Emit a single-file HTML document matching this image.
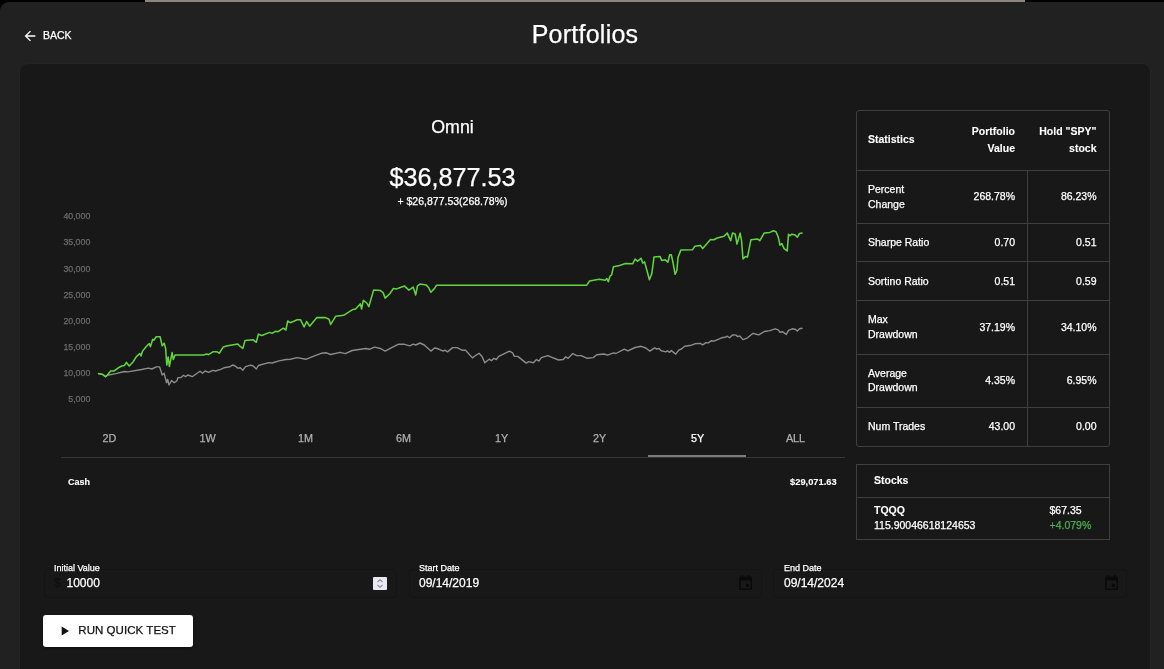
<!DOCTYPE html>
<html lang="en"><head><meta charset="utf-8"><title>Portfolios</title>
<style>
html,body{margin:0;padding:0;}
body{width:1164px;height:669px;overflow:hidden;background:#212121;color:#fff;font-family:"Liberation Sans",Arial,Helvetica,sans-serif;position:relative;}
.abs{position:absolute;white-space:nowrap;line-height:1;-webkit-text-stroke:.25px currentColor;}
.topbar{position:absolute;left:0;top:0;width:1164px;height:2px;background:#000;}
.topbar i{position:absolute;left:145px;top:0;width:880px;height:2px;background:#8b867b;}
.corner{position:absolute;left:0;top:0;width:10px;height:12px;background:#000;}
.corner b{position:absolute;left:0;top:2px;width:20px;height:20px;background:#212121;border-top-left-radius:9px;}
.card{position:absolute;left:20px;top:64px;width:1130px;height:640px;background:#181818;border-radius:8px;box-shadow:0 0 0 1px #242424;}
.title{left:0;width:1170px;text-align:center;top:22.200px;font-size:25px;letter-spacing:.25px;}
.back{left:43px;top:30.200px;font-size:10.500px;letter-spacing:0;}
.c{text-align:center;left:60.500px;width:784px;}
.ylab{font-size:8.800px;color:#6b6b6b;text-align:right;width:60px;left:30.300px;margin-top:.65px;}
.tab{font-size:10.800px;color:#b0b0b0;width:98px;text-align:center;top:433.400px;margin-left:.5px;}
.tabline{position:absolute;left:61px;top:456.600px;width:784px;height:1px;background:#353535;}
.ind{position:absolute;left:648.200px;top:455.100px;width:98px;height:1.500px;background:#7c7c7c;}
.box{position:absolute;border:1px solid #3f3f3f;box-sizing:border-box;}
.hl{position:absolute;height:1px;background:#3f3f3f;left:857px;width:252px;}
.t{font-size:10.500px;}
.r2{text-align:right;width:100px;left:915px;}
.r3{text-align:right;width:100px;left:996.5px;}
.lab{font-size:9px;color:#fff;}
.val{font-size:12px;margin-top:.25px;}
.inp{position:absolute;border:1px solid #141414;border-radius:4px;box-sizing:border-box;height:29.500px;top:568.500px;width:353.500px;}
</style></head><body>
<div class="topbar"><i></i></div>
<div class="corner"><b></b></div>
<div class="card"></div>

<svg class="abs" style="left:22px;top:28.100px" width="16" height="16" viewBox="0 0 24 24"><path fill="#fff" d="M20 11H7.83l5.59-5.59L12 4l-8 8 8 8 1.41-1.41L7.83 13H20v-2z"/></svg>
<div class="abs back">BACK</div>
<div class="abs title">Portfolios</div>

<div class="abs c" style="top:119px;font-size:17.800px">Omni</div>
<div class="abs c" style="top:165px;font-size:25.200px">$36,877.53</div>
<div class="abs c" style="top:196px;font-size:10.5px">+ $26,877.53(268.78%)</div>

<div class="abs ylab" style="top:211px">40,000</div>
<div class="abs ylab" style="top:237px">35,000</div>
<div class="abs ylab" style="top:264px">30,000</div>
<div class="abs ylab" style="top:290px">25,000</div>
<div class="abs ylab" style="top:316px">20,000</div>
<div class="abs ylab" style="top:342px">15,000</div>
<div class="abs ylab" style="top:368px">10,000</div>
<div class="abs ylab" style="top:394px">5,000</div>

<svg class="abs" style="left:0;top:0" width="860" height="420" viewBox="0 0 860 420">
<polyline fill="none" stroke="#8c8c8c" stroke-width="1.400" stroke-linejoin="round" stroke-linecap="round" points="98.6,373.6 102.9,374.6 105.5,376.7 107.2,375.3 115.8,373.6 124.4,371.5 127.8,371.9 141.5,369.5 148.4,368.1 151.9,369 156.2,366.9 159.6,366.9 162.2,375 164.2,373.3 166.5,382.7 167.7,379.3 169,385 171.6,380.5 174.2,382.7 176.8,381 178,377.6 181,377.6 183.6,375.3 185.4,376.7 187.9,375 192.2,376.7 200,371.2 202.5,373.3 205.1,371 208.6,372.4 212.9,370.3 215.4,371 220.6,369.3 224,367.8 230,366.7 232.6,365 235.2,366 237.8,368.1 240.3,367.8 242.9,370.2 245.5,366.7 250.7,365.2 253.2,366 256.3,369 258.4,365.5 268.7,362.6 272.1,363 279,360.9 285.9,359.5 290.3,359.3 297.2,357.6 305.8,359.3 314.4,355.9 321.2,353.3 326.4,352.8 330.7,354.5 340.1,352.4 345.3,353.6 352.2,350.5 365.9,348.5 369.3,349.3 374.5,347.1 380.5,348.5 385.2,351.1 391.7,347.6 398.6,344.2 403.7,344.2 409.7,345.9 413.2,344.2 415.7,345 420,343 424.3,345 430.9,351.1 434.6,348 437.2,348.5 443.2,351.1 444.9,350.2 447.5,351.9 452.7,347.6 457,347.6 462.1,350.2 465.6,350.2 472.4,357.9 475.5,355.5 479.1,353.3 482,356.4 484.8,362.8 489.1,359.2 491.5,360.7 493.9,358.3 496.3,359.5 498.7,356.4 509.5,351.1 512.6,352.8 514.3,356.4 517.8,356.4 526.2,363.1 528.6,361.6 533.4,362.8 536.5,359.5 538.9,361.1 541.3,357.6 547.8,355.6 551.3,357.1 558.5,360 563.3,359.5 565.7,356.8 568.1,358.3 572.9,353.5 576.5,355.6 581.2,355.6 587.2,358.3 593.2,357.6 596.8,354.7 604,354 607.6,355.2 613.5,352.8 615.9,353.5 624.3,349.2 627.9,350.9 635.1,347.5 641.1,346.3 645.8,348 649.9,351.1 654.5,347.9 656.7,349 659,348.5 661.2,350.8 665.7,351.9 667.5,350.8 669.7,352.3 671.3,350.6 675.8,354.1 678.7,350.1 681.4,349 684.7,346.3 691.5,345.2 694.8,343.8 700.4,343.4 702.7,344.9 706,342.7 708.3,342.9 711.6,340.7 713.9,341.1 721.7,337.8 725.1,337.3 727.3,336.2 729.6,337.8 732.5,334.9 736.3,335.1 737.4,336.7 739.7,336 743,339.6 747.5,337.8 753.1,333.3 755.4,334 758.7,334.9 764.3,331.5 769.9,330.6 775.1,328.8 778.2,329.9 780,332.2 782.3,331.7 786.3,334.4 788.5,330.4 792.3,328.8 795.7,329.5 797.3,331 799.5,328.8 802,328.3"/>
<polyline fill="none" stroke="#62d43e" stroke-width="1.550" stroke-linejoin="round" stroke-linecap="round" points="98.6,373.6 102.9,374.6 105.5,376.7 107.2,375.3 110.6,371 114,371 118.4,367.8 121.8,366 124.4,365.5 126.4,362.4 129.2,366 133,362 136.4,356.6 139.8,353.5 141,356 142.4,351.4 145.8,347 149.3,343.5 150.5,346.6 152.7,339.2 153.9,340.3 156.2,336.8 160.1,336.8 162.2,345.8 164.2,343.2 165.6,348.4 166.8,365 168.2,357 169.4,366.4 172.1,352.6 173.3,359.5 175,354.9 203.4,354.9 206.8,354 208.6,354.7 212.9,351.8 217.1,351.8 219.2,353.2 223.2,347.1 227.5,345.8 237.8,344 239.5,345.8 242.9,348.4 245,340.6 253.2,339.8 256.3,342.3 258.4,334.1 261.8,335.5 269.6,332.4 272.1,333.4 275.6,331.2 278.1,331.7 283.3,328.2 285.9,330 287.7,321 290.3,322.7 297.2,319.8 300.6,319.8 304.1,327 306.6,321.5 309.6,326.2 316.9,317.6 325.5,317.6 329,319.3 330.7,324.4 335.8,316.2 343.6,315.3 352.2,309.8 355.6,309 360.4,303.8 361.6,309 363.3,300.4 366.8,303 368.8,306.7 373.6,290.1 380.5,290.6 383.1,292.6 385.2,298.1 390,293.5 393.4,288.4 396.8,288.9 400.3,287.5 404.6,286.1 408.9,290.1 413.2,287.1 415.7,294.9 417.5,285.8 420,284.1 426,284.9 428.6,287.5 430.9,292.3 434.6,288.4 436.4,285.3 480,285.3 586.7,285.1 589.6,281 599.2,279.3 605.2,280.3 606.8,278.6 608.3,281.7 610,276.2 611.6,275 613.5,266.7 619.5,265.5 625.5,263.5 632.7,263.8 635.1,259 637.5,261.1 641.1,258.3 642.7,263.1 644.6,261.9 649.4,279.8 651.8,273.8 654,257.1 660.1,256.6 661.7,260.4 665.2,259.8 667.9,262.2 669.7,254.8 671.3,254.8 672.9,262 675.1,274.3 676.9,270.5 678,257.5 680.9,249.9 692.6,249.7 694.8,246.3 700.4,245.4 702.7,248.6 706,244.7 710.5,239.6 713.9,239.8 717.2,238 724,236.2 727.3,233.1 728.9,236.9 730.7,240.7 732.5,233.1 735.2,234 737,244.1 740.1,233.1 741.5,240.3 743,258.9 745.3,256.6 747.5,257.1 750.9,239.8 757.6,239.1 759.8,240.7 764.3,232.9 769.9,232.4 773.3,230.8 776,231.7 778.2,236.9 780,245.2 781.8,243.6 784.1,248.6 787.2,251 788.5,234.2 790.1,235.8 791.7,234.2 795.3,235.1 797.3,237.3 799.5,233.5 802,233.1"/>
</svg>

<div class="abs tab" style="left:60px">2D</div>
<div class="abs tab" style="left:158px">1W</div>
<div class="abs tab" style="left:256px">1M</div>
<div class="abs tab" style="left:354px">6M</div>
<div class="abs tab" style="left:452px">1Y</div>
<div class="abs tab" style="left:550px">2Y</div>
<div class="abs tab" style="left:648px;color:#fff">5Y</div>
<div class="abs tab" style="left:746px">ALL</div>
<div class="tabline"></div>
<div class="ind"></div>

<div class="abs" style="left:68px;top:478.300px;font-size:9px;font-weight:bold;-webkit-text-stroke-width:.1px">Cash</div>
<div class="abs" style="left:736.600px;width:100px;text-align:right;top:478.200px;font-size:9.300px;font-weight:bold;-webkit-text-stroke-width:.1px">$29,071.63</div>

<!-- statistics table -->
<div class="box" style="left:856px;top:110px;width:254px;height:337px;border-radius:3px"></div>
<div class="hl" style="top:170px"></div>
<div class="hl" style="top:223px"></div>
<div class="hl" style="top:261px"></div>
<div class="hl" style="top:300px"></div>
<div class="hl" style="top:354px"></div>
<div class="hl" style="top:407px"></div>
<div style="position:absolute;left:1027px;top:171px;width:1px;height:275px;background:#3f3f3f"></div>

<div class="abs t" style="left:868px;top:134.400px;font-weight:bold;-webkit-text-stroke-width:.1px">Statistics</div>
<div class="abs t r2" style="top:126px;font-weight:bold;-webkit-text-stroke-width:.1px">Portfolio</div>
<div class="abs t r2" style="top:143.250px;font-weight:bold;-webkit-text-stroke-width:.1px">Value</div>
<div class="abs t r3" style="top:126px;font-weight:bold;-webkit-text-stroke-width:.1px">Hold "SPY"</div>
<div class="abs t r3" style="top:143.250px;font-weight:bold;-webkit-text-stroke-width:.1px">stock</div>

<div class="abs t" style="left:868px;top:183.800px">Percent</div>
<div class="abs t" style="left:868px;top:198.500px">Change</div>
<div class="abs t r2" style="top:191.250px">268.78%</div>
<div class="abs t r3" style="top:191.250px">86.23%</div>

<div class="abs t" style="left:868px;top:236.800px">Sharpe Ratio</div>
<div class="abs t r2" style="top:236.800px">0.70</div>
<div class="abs t r3" style="top:236.800px">0.51</div>

<div class="abs t" style="left:868px;top:275.800px">Sortino Ratio</div>
<div class="abs t r2" style="top:275.800px">0.51</div>
<div class="abs t r3" style="top:275.800px">0.59</div>

<div class="abs t" style="left:868px;top:314.250px">Max</div>
<div class="abs t" style="left:868px;top:328.800px">Drawdown</div>
<div class="abs t r2" style="top:321.800px">37.19%</div>
<div class="abs t r3" style="top:321.800px">34.10%</div>

<div class="abs t" style="left:868px;top:367.800px">Average</div>
<div class="abs t" style="left:868px;top:382.250px">Drawdown</div>
<div class="abs t r2" style="top:375px">4.35%</div>
<div class="abs t r3" style="top:375px">6.95%</div>

<div class="abs t" style="left:868px;top:421px">Num Trades</div>
<div class="abs t r2" style="top:421px">43.00</div>
<div class="abs t r3" style="top:421px">0.00</div>

<!-- stocks -->
<div class="box" style="left:856px;top:464px;width:254px;height:76px"></div>
<div class="hl" style="top:497px"></div>
<div class="abs t" style="left:874px;top:475px;font-weight:bold;-webkit-text-stroke-width:.1px">Stocks</div>
<div class="abs t" style="left:874px;top:505px;font-weight:bold;-webkit-text-stroke-width:.1px">TQQQ</div>
<div class="abs t" style="left:874px;top:520.250px">115.90046618124653</div>
<div class="abs t" style="left:1049.500px;top:505px">$67.35</div>
<div class="abs t" style="left:1049.500px;top:520.250px;color:#4caf50">+4.079%</div>

<!-- inputs -->
<div class="inp" style="left:43.700px"></div>
<div class="inp" style="left:408.500px"></div>
<div class="inp" style="left:773.200px"></div>
<div class="abs lab" style="left:54px;top:564px">Initial Value</div>
<div class="abs val" style="left:54px;top:577px;color:#101010">$</div>
<div class="abs val" style="left:66.500px;top:577px">10000</div>
<div style="position:absolute;left:373px;top:577px;width:14px;height:13px;background:#e9e9ef;border-radius:1px"></div>
<svg class="abs" style="left:373px;top:577px" width="14" height="13" viewBox="0 0 14 13"><path d="M4.5 5 L7 2.7 L9.5 5 M4.5 8 L7 10.3 L9.5 8" fill="none" stroke="#85859a" stroke-width="1.1"/></svg>

<div class="abs lab" style="left:419px;top:564px">Start Date</div>
<div class="abs val" style="left:419px;top:577px">09/14/2019</div>
<svg class="abs" style="left:739.200px;top:574.600px" width="13" height="15" viewBox="0 0 13 15"><path fill="#0a0a0a" d="M2.5 0h1.6v1.5h4.8V0h1.6v1.5H11.5a1.5 1.5 0 0 1 1.5 1.5v10.5a1.5 1.5 0 0 1-1.5 1.5h-10A1.5 1.5 0 0 1 0 13.500V3a1.5 1.5 0 0 1 1.500-1.500H2.500zM1.600 5.500v7.900h9.800V5.500zM6.800 8.700h3.200v3.200H6.800z"/></svg>

<div class="abs lab" style="left:784px;top:564px">End Date</div>
<div class="abs val" style="left:784px;top:577px">09/14/2024</div>
<svg class="abs" style="left:1104.600px;top:574.600px" width="13" height="15" viewBox="0 0 13 15"><path fill="#0a0a0a" d="M2.5 0h1.6v1.5h4.8V0h1.6v1.5H11.5a1.5 1.5 0 0 1 1.5 1.5v10.5a1.5 1.5 0 0 1-1.5 1.5h-10A1.5 1.5 0 0 1 0 13.500V3a1.5 1.5 0 0 1 1.500-1.500H2.500zM1.600 5.500v7.900h9.800V5.500zM6.800 8.700h3.200v3.200H6.800z"/></svg>

<!-- button -->
<div style="position:absolute;left:43px;top:615.300px;width:150px;height:32px;background:#fff;border-radius:3px;box-shadow:0 1px 3px rgba(0,0,0,.5)"></div>
<svg class="abs" style="left:61.300px;top:626.300px" width="9" height="10" viewBox="0 0 9 10"><path d="M0.700 0.500 L8 5 L0.700 9.500z" fill="#111"/></svg>
<div class="abs" style="left:78.300px;top:624.900px;font-size:11.500px;color:#111;letter-spacing:.05px">RUN QUICK TEST</div>
</body></html>
